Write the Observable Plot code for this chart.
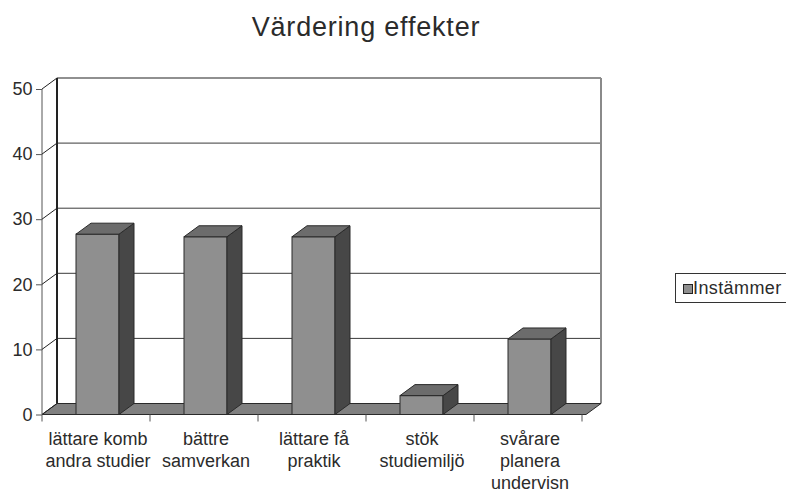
<!DOCTYPE html>
<html><head><meta charset="utf-8">
<script src="https://cdn.jsdelivr.net/npm/d3@7"></script>
<script src="https://cdn.jsdelivr.net/npm/@observablehq/plot@0.6"></script>
<style>
html,body{margin:0;padding:0;background:#fff;overflow:hidden;width:786px;height:490px;}
body{font-family:"Liberation Sans",Arial,sans-serif;position:relative;color:#2b2b2b;}
#title{position:absolute;left:0;top:14px;width:732px;text-align:center;font-size:27px;line-height:27px;letter-spacing:0.8px;}
#chart{position:absolute;left:0;top:58px;}
#legend{position:absolute;left:675px;top:273px;width:140px;height:30px;border:1px solid #333;box-sizing:border-box;background:#fff;}
#legend .sw{position:absolute;left:7px;top:10px;width:8px;height:8px;border:1px solid #222;background:#8f8f8f;}
#legend .lb{position:absolute;left:17px;top:4px;font-size:18px;line-height:20px;white-space:nowrap;letter-spacing:0.4px;}
</style></head>
<body>
<div id="title"></div>
<div id="chart"></div>
<div id="legend"><div class="sw"></div><div class="lb"></div></div>
<script>
const title = "Värdering effekter";
const seriesName = "Instämmer";
const categories = ["lättare komb andra studier","bättre samverkan","lättare få praktik","stök studiemiljö","svårare planera undervisn"];
const tickLabels = ["lättare komb\nandra studier","bättre\nsamverkan","lättare få\npraktik","stök\nstudiemiljö","svårare\nplanera\nundervisn"];
const values = [27.7, 27.3, 27.3, 2.9, 11.6];
const yTicks = [0, 10, 20, 30, 40, 50];

document.getElementById("title").textContent = title;
document.querySelector("#legend .lb").textContent = seriesName;

const DX = 15, DY = -11;
const data = categories.map((c, i) => ({cat: c, value: values[i]}));

function frame3d(index, scales) {
  const x = scales.x, y = scales.y;
  const [xl, xr] = x.range();
  const y0 = y(0), yT = y(yTicks[yTicks.length - 1]);
  const g = d3.create("svg:g");
  for (const v of yTicks.slice(1, -1)) {
    g.append("line").attr("x1", xl + DX).attr("x2", xr + DX).attr("y1", y(v) + DY).attr("y2", y(v) + DY)
      .attr("stroke", "#3a3a3a").attr("stroke-width", 1);
  }
  g.append("line").attr("x1", xl + DX).attr("x2", xr + DX).attr("y1", yT + DY).attr("y2", yT + DY)
    .attr("stroke", "#222").attr("stroke-width", 1.2);
  g.append("line").attr("x1", xr + DX).attr("x2", xr + DX).attr("y1", yT + DY).attr("y2", y0 + DY)
    .attr("stroke", "#8a8a8a").attr("stroke-width", 2);
  g.append("line").attr("x1", xl + DX).attr("x2", xl + DX).attr("y1", yT + DY).attr("y2", y0 + DY)
    .attr("stroke", "#222").attr("stroke-width", 2);
  g.append("path").attr("d", `M${xl},${y0}L${xl + DX},${y0 + DY}L${xr + DX},${y0 + DY}L${xr},${y0}Z`)
    .attr("fill", "#808080").attr("stroke", "#2a2a2a").attr("stroke-width", 1);
  g.append("line").attr("x1", xl).attr("x2", xl).attr("y1", yT).attr("y2", y0).attr("stroke", "#555");
  for (const v of yTicks) {
    g.append("line").attr("x1", xl).attr("x2", xl + DX).attr("y1", y(v)).attr("y2", y(v) + DY)
      .attr("stroke", "#222").attr("stroke-width", 1);
  }
  const step = x.step();
  for (let i = 0; i <= categories.length; i++) {
    const xx = xl + i * step;
    g.append("line").attr("x1", xx).attr("x2", xx).attr("y1", y0).attr("y2", y0 + 7).attr("stroke", "#555");
  }
  return g.node();
}

function bars3d(index, scales) {
  const x = scales.x, y = scales.y;
  const w = x.bandwidth();
  const y0 = y(0);
  const g = d3.create("svg:g");
  for (const d of data) {
    const xa = x(d.cat), xb = xa + w, yv = y(d.value);
    g.append("path").attr("d", `M${xb},${y0}L${xb + DX},${y0 + DY}L${xb + DX},${yv + DY}L${xb},${yv}Z`)
      .attr("fill", "#474747").attr("stroke", "#2a2a2a").attr("stroke-width", 1).attr("stroke-linejoin", "round");
    g.append("path").attr("d", `M${xa},${yv}L${xa + DX},${yv + DY}L${xb + DX},${yv + DY}L${xb},${yv}Z`)
      .attr("fill", "#6c6c6c").attr("stroke", "#2a2a2a").attr("stroke-width", 1).attr("stroke-linejoin", "round");
  }
  return g.node();
}

const chart = Plot.plot({
  width: 786, height: 432,
  marginLeft: 42, marginRight: 200, marginTop: 31, marginBottom: 75.5,
  style: {fontFamily: "'Liberation Sans', Arial, sans-serif", fontSize: "18px", color: "#2b2b2b", background: "transparent", overflow: "visible"},
  x: {domain: categories, paddingInner: 0.6, paddingOuter: 0.3},
  y: {domain: [0, 50]},
  marks: [
    frame3d,
    Plot.barY(data, {x: "cat", y: "value", fill: "#8f8f8f", stroke: "#2a2a2a", strokeWidth: 1}),
    bars3d,
    Plot.axisY(yTicks, {anchor: "left", tickSize: 6, tickPadding: 4, fontSize: 18, stroke: "#555", fill: "#2b2b2b", label: null}),
    Plot.axisX({tickSize: 0, tickPadding: 15, fontSize: 18, lineHeight: 1.2, fill: "#2b2b2b", label: null,
      tickFormat: d => tickLabels[categories.indexOf(d)]})
  ]
});
document.getElementById("chart").appendChild(chart);
</script>
</body></html>
